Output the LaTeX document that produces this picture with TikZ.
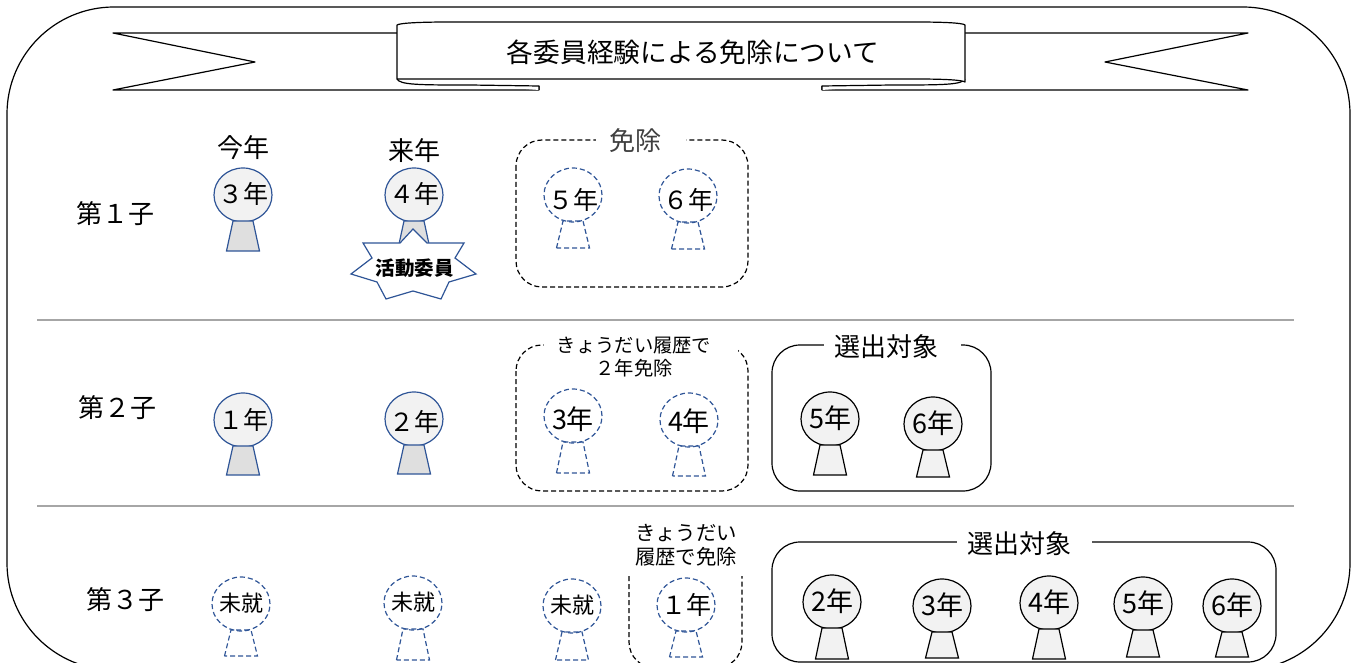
\documentclass[tikz,border=0pt]{standalone}
\usepackage{fontspec}
\setmainfont{Noto Sans CJK JP}
\usetikzlibrary{%
  shapes.geometric,% wg. trapezium
  positioning% wg. " of "
}
\definecolor{medalblue}{HTML}{2F5597}
\newcommand{\fsA}{\fontsize{26}{28}\selectfont}
\newcommand{\fsB}{\fontsize{19.3}{23}\selectfont}
\newcommand{\fsC}{\fontsize{27}{28}\selectfont}
\newcommand{\fsD}{\fontsize{25}{28}\selectfont}
\newcommand{\fsE}{\fontsize{22}{24}\selectfont}
\newcommand{\nil}{\phantom{\rule{1pt}{1pt}}}
\newcommand{\yr}[2][0pt]{\raisebox{\dimexpr-.36em-#1}[0pt][0pt]{\makebox[0pt]{#2}}}

\begin{document}
\begin{tikzpicture}[
  x=1pt, y=-1pt, font=\fsA,
  ribbon/.style={draw=black, line width=1.2pt, fill=white, line join=round},
  lbl/.style={inner sep=0pt, align=center, text=black},
  lblfill/.style={lbl, fill=white, minimum height=24pt},
  head/.style={ellipse, minimum width=58pt, minimum height=54pt, inner sep=0pt, outer sep=0pt, line width=1.2pt},
  tail/.style={trapezium, trapezium stretches=true, trapezium angle=72, minimum width=33pt, minimum height=#1, inner sep=0pt, outer sep=0pt, line width=1.2pt},
  headblue/.style={head, draw=medalblue, fill=gray!10, font=\fsD},
  tailblue/.style={tail=#1, draw=medalblue, fill=gray!25},
  headdash/.style={head, draw=medalblue, dash pattern=on 5pt off 3pt, font=\fsC},
  taildash/.style={tail=#1, draw=medalblue, dash pattern=on 5pt off 3pt},
  headblack/.style={head, draw=black, fill=gray!10, font=\fsC},
  tailblack/.style={tail=#1, draw=black, fill=gray!10},
  dashbox/.style={draw=black, line width=1.2pt, dash pattern=on 5pt off 3pt, rounded corners=26pt},
  solidbox/.style={draw=black, line width=1.2pt, rounded corners=28pt},
  sepline/.style={draw=gray!70, line width=1.5pt}
]
\path[use as bounding box, clip] (0,0) rectangle (1358,663);

% outer frame
\draw[line width=1.2pt, rounded corners=107pt] (7,7) rectangle (1350,670);

% title ribbon
\draw[ribbon] (397,33) -- (113,33) -- (255,62) -- (113,90) -- (539,90) -- (539,86);
\draw[ribbon] (965,33) -- (1248,33) -- (1105,62) -- (1248,90) -- (822,90) -- (822,86);
\draw[ribbon] (397,79) .. controls (400,85) and (420,85) .. (470,85) -- (539,86) -- (539,90);
\draw[ribbon] (965,79) .. controls (962,85) and (942,85) .. (892,85) -- (822,86) -- (822,90);
\draw[ribbon] (397,25) .. controls (400,23) and (420,22) .. (450,22) -- (915,22) .. controls (945,22) and (963,23) .. (965,25) -- (965,82) .. controls (962,80) and (945,79) .. (915,79) -- (397,79) -- cycle;
\node[lbl, font=\fontsize{26.7}{28}\selectfont] (title) at (693,52) {各委員経験による免除について};

\draw[sepline] (37,320) -- (1294,320);
\draw[sepline] (37,506) -- (1294,506);

% boxes
\draw[dashbox] (516,140) rectangle (748,287);
\draw[dashbox] (516,345) rectangle (748,491);
\draw[solidbox] (772,345) rectangle (991,491);
\draw[dashbox] (629,576) -- (629,668) -- (742,668) -- (742,576);
\draw[solidbox] (772,542) rectangle (1276,662);
\node[lblfill, minimum width=90pt, text=black!75] (free1) at (641,141) {免除\hspace{12pt}};
\node[lblfill, minimum width=194pt, minimum height=46pt] (gap2) at (641,357) {};
\node[lbl, font=\fsB] (free2) at (634,357) {きょうだい履歴で\\２年免除};
\node[lblfill, minimum width=137pt] (pick2) at (892,347) {選出対象\hspace{11pt}};
\node[lbl, font=\fontsize{20.4}{24}\selectfont] (free3) at (686,545) {きょうだい\\履歴で免除};
\node[lblfill, minimum width=135pt] (pick3) at (1024,544) {選出対象\hspace{10pt}};

% row labels
\node[lbl] (child1) at (115,214) {第１子};
\node[lbl] (child2) at (117,408) {第２子};
\node[lbl] (child3) at (125,600) {第３子};
\node[lbl] (thisyear) at (243,148) {今年};
\node[lbl] (nextyear) at (414,151) {来年};

% first child
\node[headblue] (a3) at (243,195) {\yr{３年}};
\node[tailblue=30pt, below=-1pt of a3] (ta3) {\nil};
\node[headblue] (a4) at (414,195) {\yr{４年}};
\node[tailblue=30pt, below=-1pt of a4] (ta4) {\nil};
\node[headdash, font=\fsD] (a5) at (573,195) {\yr[6pt]{５年}};
\node[taildash=27pt, below=-1pt of a5] (ta5) {\nil};
\node[headdash, font=\fsD] (a6) at (688,196) {\yr[5pt]{６年}};
\node[taildash=27pt, below=-1pt of a6] (ta6) {\nil};
\draw[line width=1.2pt, draw=medalblue, fill=white] (413,229) -- (427,243) -- (464,243) -- (455,258) -- (476,274) -- (449,282) -- (441,299) -- (413,291) -- (386,299) -- (377,282) -- (351,274) -- (372,258) -- (363,243) -- (400,243) -- cycle;
\node[lbl, font=\fontsize{19.5}{21}\selectfont\bfseries] (activity) at (414.5,268) {活動委員};

% second child
\node[headblue] (b1) at (243,420) {\yr{１年}};
\node[tailblue=29pt, below=-1pt of b1] (tb1) {\nil};
\node[headblue] (b2) at (414,419) {\yr[3pt]{２年}};
\node[tailblue=29pt, below=-1pt of b2] (tb2) {\nil};
\node[headdash] (b3) at (573,416) {\yr[4pt]{3年}};
\node[taildash=31pt, below=-1pt of b3] (tb3) {\nil};
\node[headdash] (b4) at (689,420) {\yr[2pt]{4年}};
\node[taildash=30pt, below=-1pt of b4] (tb4) {\nil};
\node[headblack] (b5) at (830,419) {\yr{5年}};
\node[tailblack=30pt, below=-1pt of b5] (tb5) {\nil};
\node[headblack] (b6) at (933,424) {\yr{6年}};
\node[tailblack=27pt, below=-1pt of b6] (tb6) {\nil};

% third child
\node[headdash, font=\fsE] (c1) at (241,604) {\yr{未就}};
\node[taildash=26pt, below=-1pt of c1] (tc1) {\nil};
\node[headdash, font=\fsE] (c2) at (413,603) {\yr{未就}};
\node[taildash=31pt, below=-1pt of c2] (tc2) {\nil};
\node[headdash, font=\fsE] (c3) at (572,606) {\yr{未就}};
\node[taildash=28pt, below=-1pt of c3] (tc3) {\nil};
\node[headdash, font=\fsD] (c4) at (686,605) {\yr{１年}};
\node[taildash=26pt, below=-1pt of c4] (tc4) {\nil};
\node[headblack] (d2) at (832,602) {\yr{2年}};
\node[tailblack=31pt, below=-1pt of d2] (td2) {\nil};
\node[headblack] (d3) at (942,606) {\yr{3年}};
\node[tailblack=26pt, below=-1pt of d3] (td3) {\nil};
\node[headblack] (d4) at (1049,603) {\yr{4年}};
\node[tailblack=30pt, below=-1pt of d4] (td4) {\nil};
\node[headblack] (d5) at (1143,604) {\yr{5年}};
\node[tailblack=27pt, below=-1pt of d5] (td5) {\nil};
\node[headblack] (d6) at (1232,606) {\yr{6年}};
\node[tailblack=25pt, below=-1pt of d6] (td6) {\nil};
\end{tikzpicture}
\end{document}
